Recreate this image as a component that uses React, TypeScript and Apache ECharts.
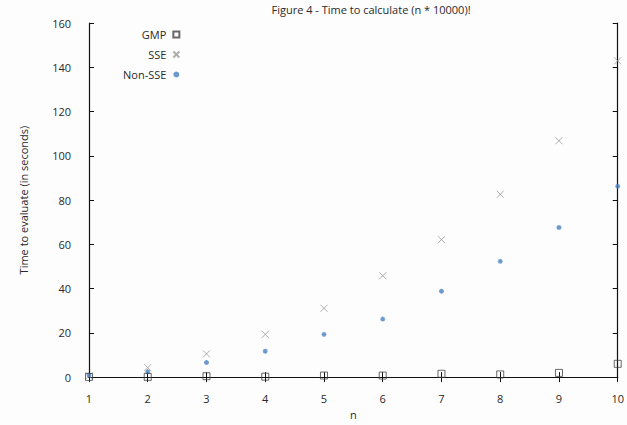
import React, { useEffect, useRef } from "react";
import * as echarts from "echarts";

const nValues = [1, 2, 3, 4, 5, 6, 7, 8, 9, 10];
const gmp = [0.1, 0.1, 0.4, 0.2, 0.7, 0.7, 1.5, 1.2, 1.9, 6.0];
const sse = [0.6, 4.3, 10.5, 19.3, 31.1, 45.8, 62.1, 82.6, 106.8, 142.9];
const nonSse = [0.9, 2.4, 6.6, 11.7, 19.3, 26.2, 38.8, 52.3, 67.6, 86.2];
const seriesNames = ["GMP", "SSE", "Non-SSE"];
const titleText = "Figure 4 - Time to calculate (n * 10000)!";
const xName = "n";
const yName = "Time to evaluate (in seconds)";

const FONT = "Open Sans";
const TEXT = "#2a2a2a";

const pairs = (ys: number[]) => nValues.map((x, i) => [x, ys[i]]);

export default function App() {
  const ref = useRef<HTMLDivElement>(null);
  useEffect(() => {
    if (!ref.current) return;
    const chart = echarts.init(ref.current, null, { renderer: "svg" });
    const tickInside = { show: true, inside: true, length: 5, lineStyle: { color: "#111", width: 1 } };
    chart.setOption({
      animation: false,
      backgroundColor: "#fdfdfd",
      textStyle: { fontFamily: FONT },
      title: {
        text: titleText,
        left: 366,
        top: -1,
        textAlign: "center",
        textStyle: { fontFamily: FONT, fontSize: 11, fontWeight: "normal", color: TEXT },
      },
      legend: {
        data: [
          { name: seriesNames[0] },
          { name: seriesNames[1] },
          { name: seriesNames[2], itemStyle: { color: "#4a7fbf", borderWidth: 0 }, icon: "circle" },
        ],
        orient: "vertical",
        align: "right",
        left: 118,
        top: 24,
        itemWidth: 6,
        itemHeight: 6,
        itemGap: 9,
        textStyle: { fontFamily: FONT, fontSize: 11, color: TEXT, padding: [0, 2, 0, 0] },
      },
      grid: { left: 89, right: 8, top: 23, bottom: 40 },
      xAxis: [
        {
          type: "value",
          min: 1,
          max: 10,
          interval: 1,
          name: xName,
          nameLocation: "middle",
          nameGap: 30,
          nameTextStyle: { fontFamily: FONT, fontSize: 11, color: TEXT },
          axisLine: { show: true, lineStyle: { color: "#111", width: 1.2 } },
          axisTick: tickInside,
          axisLabel: { margin: 16, fontFamily: FONT, fontSize: 11, color: TEXT },
          splitLine: { show: false },
        },
        {
          type: "value",
          position: "top",
          min: 1,
          max: 10,
          interval: 1,
          axisLine: { show: true, lineStyle: { color: "#111", width: 1.2 } },
          axisTick: tickInside,
          axisLabel: { show: false },
          splitLine: { show: false },
        },
      ],
      yAxis: [
        {
          type: "value",
          min: 0,
          max: 160,
          interval: 20,
          name: yName,
          nameLocation: "middle",
          nameGap: 60,
          nameTextStyle: { fontFamily: FONT, fontSize: 11, color: TEXT },
          axisLine: { show: true, lineStyle: { color: "#111", width: 1.2 } },
          axisTick: tickInside,
          axisLabel: { margin: 18, fontFamily: FONT, fontSize: 11, color: TEXT },
          splitLine: { show: false },
        },
        {
          type: "value",
          position: "right",
          min: 0,
          max: 160,
          interval: 20,
          axisLine: { show: true, lineStyle: { color: "#111", width: 1.2 } },
          axisTick: tickInside,
          axisLabel: { show: false },
          splitLine: { show: false },
        },
      ],
      series: [
        {
          name: seriesNames[0],
          type: "scatter",
          data: pairs(gmp),
          symbol: "rect",
          symbolSize: 7,
          itemStyle: { color: "rgba(255,255,255,0)", borderColor: "#444", borderWidth: 1 },
          z: 3,
        },
        {
          name: seriesNames[1],
          type: "scatter",
          data: pairs(sse),
          symbol: "path://M0,0L10,10M10,0L0,10",
          symbolSize: 7,
          itemStyle: { color: "rgba(255,255,255,0)", borderColor: "#9a9a9a", borderWidth: 1 },
          z: 2,
        },
        {
          name: seriesNames[2],
          type: "scatter",
          data: pairs(nonSse),
          symbol: "path://M5,0L5,10M0,5L10,5M1.5,1.5L8.5,8.5M8.5,1.5L1.5,8.5",
          symbolSize: 5,
          itemStyle: { color: "rgba(255,255,255,0)", borderColor: "#4a7fbf", borderWidth: 1.3 },
          z: 2,
        },
      ],
    });
    return () => chart.dispose();
  }, []);
  return <div ref={ref} style={{ width: 627, height: 425, position: "absolute", left: 0, top: 0 }} />;
}
